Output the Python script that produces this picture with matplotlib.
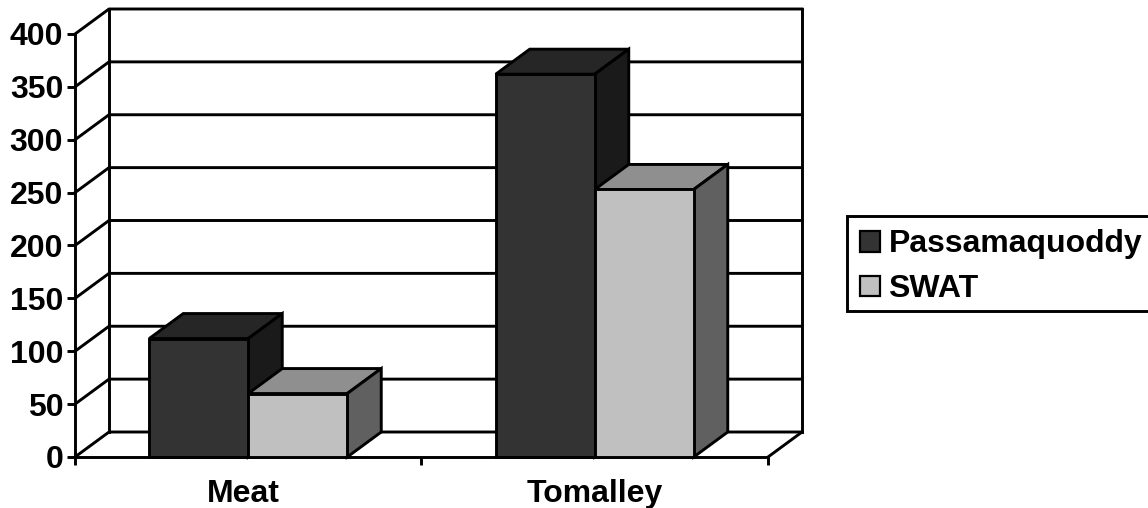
import matplotlib
matplotlib.use('Agg')
import matplotlib.pyplot as plt
from matplotlib.patches import Polygon, Patch, Rectangle
from matplotlib.transforms import ScaledTranslation

# values
categories = ['Meat', 'Tomalley']
series_names = ['Passamaquoddy', 'SWAT']
passamaquoddy = [112, 362]
swat = [60, 253]
y_ticks = [0, 50, 100, 150, 200, 250, 300, 350, 400]

front_colors = ['#333333', '#c0c0c0']
top_colors = ['#262626', '#8f8f8f']
side_colors = ['#1a1a1a', '#606060']

W, H = 1148, 508
plt.rcParams['font.family'] = ['Liberation Sans', 'DejaVu Sans']
plt.rcParams['font.weight'] = 'bold'
plt.rcParams['font.size'] = 23

fig = plt.figure(figsize=(W / 100, H / 100), dpi=100)

# the axes box is the front plane of the 3d chart
left, right, bottom, top = 75, 768, 457, 34
ax = fig.add_axes([left / W, 1 - bottom / H, (right - left) / W, (bottom - top) / H])
ax.set_xlim(0, len(categories))
ax.set_ylim(0, 400)
for s in ['top', 'right']:
    ax.spines[s].set_visible(False)
for s in ['left', 'bottom']:
    ax.spines[s].set_linewidth(2.1)

# depth of the chart, 34 px across and 25 px up
dx = 34 / ((right - left) / len(categories))
dy = 25 / ((bottom - top) / 400)
lw = 2.1

# back wall and left wall lines
for v in y_ticks:
    ax.plot([0, dx, len(categories) + dx], [v, v + dy, v + dy], color='black', lw=lw,
            clip_on=False, solid_capstyle='projecting', zorder=1)
ax.plot([dx, dx], [dy, 400 + dy], color='black', lw=lw, clip_on=False, zorder=1)
ax.plot([len(categories) + dx] * 2, [dy, 400 + dy], color='black', lw=lw, clip_on=False, zorder=1)
ax.plot([len(categories), len(categories) + dx], [0, dy], color='black', lw=lw, clip_on=False, zorder=1)


def draw_face(pts, color, z):
    ax.add_patch(Polygon(pts, closed=True, facecolor=color, edgecolor='black', lw=lw,
                         joinstyle='miter', clip_on=False, zorder=z))


# gap is 150% of a bar width, shared on both sides of the pair
bar_w = 1 / 3.5
for i in range(len(categories)):
    for j, vals in enumerate([passamaquoddy, swat]):
        x0 = i + 0.75 * bar_w + j * bar_w
        x1 = x0 + bar_w
        v = vals[i]
        z = 3 + j
        draw_face([(x0, v), (x1, v), (x1 + dx, v + dy), (x0 + dx, v + dy)], top_colors[j], z)
        draw_face([(x1, 0), (x1 + dx, dy), (x1 + dx, v + dy), (x1, v)], side_colors[j], z)
        draw_face([(x0, 0), (x1, 0), (x1, v), (x0, v)], front_colors[j], z)

ax.set_yticks(y_ticks)
ax.set_xticks(range(len(categories) + 1))
ax.set_xticklabels([])
ax.set_xticks([i + 0.5 for i in range(len(categories))], labels=categories, minor=True)
ax.tick_params(axis='y', length=5.5, width=lw, pad=3)
ax.tick_params(axis='x', which='major', length=5.5, width=lw)
ax.tick_params(axis='x', which='minor', length=0, pad=16)

# Meat label sits a little left of the category centre
meat_label = ax.get_xticklabels(minor=True)[0]
meat_label.set_transform(meat_label.get_transform() + ScaledTranslation(-4.5 / 100, 0, fig.dpi_scale_trans))

# legend box runs off the right edge of the picture
fig.add_artist(Rectangle((847 / W, 1 - 311 / H), 320 / W, 95 / H, transform=fig.transFigure,
                         facecolor='white', edgecolor='black', lw=lw))
handles = [Patch(facecolor=front_colors[k], edgecolor='black', lw=1.6) for k in range(2)]
leg = fig.legend(handles, series_names, loc='upper left', bbox_to_anchor=(847 / W, 1 - 216 / H),
                 bbox_transform=fig.transFigure, frameon=False,
                 handlelength=0.6, handleheight=0.62, handletextpad=0.28, labelspacing=0.46,
                 borderaxespad=0, borderpad=0.42, fontsize=23)

fig.savefig('out.png', dpi=100)
